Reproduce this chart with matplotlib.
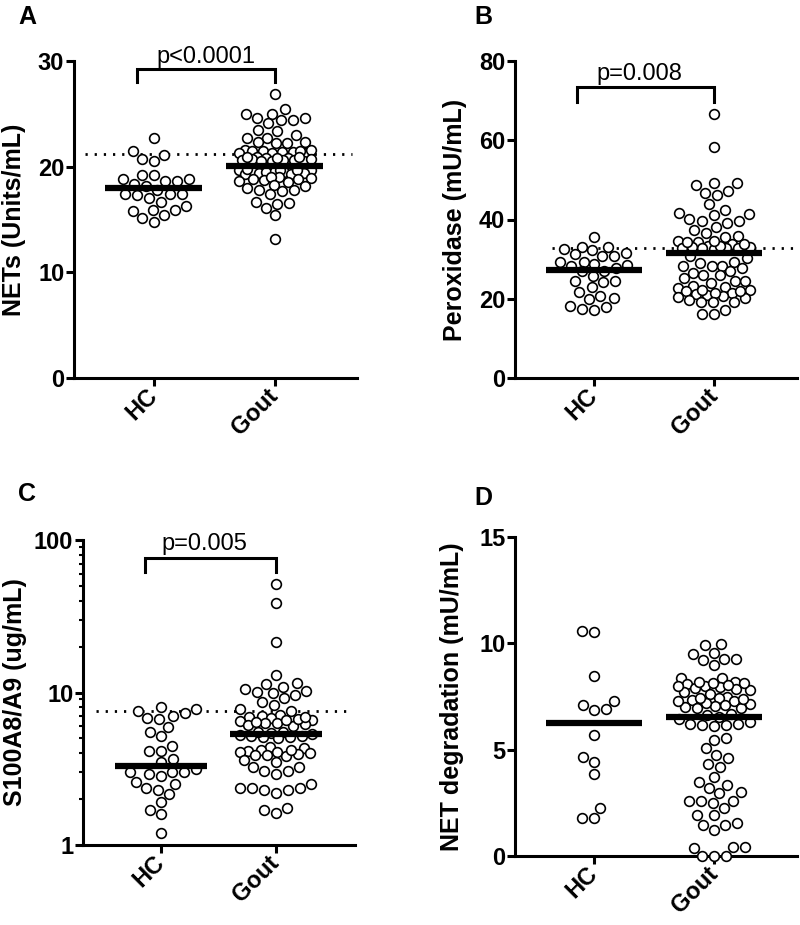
import matplotlib
matplotlib.use('Agg')
import matplotlib.pyplot as plt
import numpy as np
from matplotlib.ticker import LogLocator, NullFormatter, FixedLocator

plt.rcParams['font.family'] = ['Liberation Sans', 'DejaVu Sans']

groups = ['HC', 'Gout']

# Panel A: NETs (Units/mL)
nets_hc = [22.7, 21.45, 21.15, 20.75, 20.5, 19.2, 19.2, 18.8, 18.8, 18.6, 18.6, 18.4, 18.2,
           17.8, 17.45, 17.45, 17.4, 17.3, 17.0, 16.7, 16.3, 15.9, 15.9, 15.8, 15.4, 15.1, 14.8]
nets_gout = [26.9, 25.5, 25.0, 25.0, 24.6, 24.6, 24.45, 24.45, 24.1, 23.5, 23.4, 22.95, 22.7,
             22.75, 22.3, 22.2, 22.3, 22.2,
             21.6, 21.5, 21.45, 21.35, 21.3, 21.25, 21.3, 21.4, 21.5, 21.6,
             20.95, 20.85, 20.8, 20.7, 20.6, 20.55, 20.5, 20.5, 20.6, 20.65, 20.75, 20.8, 20.9, 20.95,
             19.8, 19.7, 19.65, 19.55, 19.5, 19.4, 19.35, 19.35, 19.4, 19.5, 19.55, 19.65, 19.7, 19.8,
             19.0, 18.9, 18.8, 18.65, 18.55, 18.7, 18.85, 19.0,
             18.2, 18.25, 17.8, 17.7, 17.4, 17.75, 18.0, 16.6, 16.7, 16.1, 16.5, 15.4, 13.15]
nets_means = [17.95, 20.09]
nets_ref = 21.2
nets_p = 'p<0.0001'

# Panel B: Peroxidase (mU/mL)
perox_hc = [35.5, 33.0, 33.0, 32.4, 32.5, 31.5, 31.3, 30.8, 30.8, 29.4, 29.2, 28.7, 28.6, 28.3,
            27.7, 27.1, 26.9, 25.8, 24.5, 24.5, 24.2, 22.9, 20.8, 21.7, 19.9, 20.2, 17.9, 18.2,
            17.2, 17.4]
perox_gout = [66.6, 58.4, 49.2, 49.2, 48.7, 47.2, 46.8, 46.2, 43.9, 42.3, 41.6, 41.4, 41.2,
              40.1, 39.5, 39.7, 39.2, 38.2, 37.4, 36.7, 35.9, 35.5,
              34.5, 34.2, 33.8, 33.4, 33.1, 32.9, 32.7, 32.6, 32.7, 32.9, 33.1, 33.4, 33.8, 34.2, 34.5,
              30.7, 30.4, 29.4, 29.0, 28.3, 28.2, 27.7, 28.2, 26.9, 26.6, 26.1, 25.9, 25.2, 24.6,
              23.9, 24.6, 22.9, 23.3,
              22.6, 22.3, 21.9, 21.5, 21.1, 20.7, 20.3, 20.5, 20.9, 21.5, 21.9, 22.3,
              19.7, 19.2, 19.1, 19.2, 17.2, 16.2, 16.2]
perox_means = [27.3, 31.5]
perox_ref = 32.8
perox_p = 'p=0.008'

# Panel C: S100A8/A9 (ug/mL), log scale
s100_hc = [7.75, 8.0, 7.3, 7.6, 6.67, 7.0, 6.77, 5.53, 5.18, 5.97, 4.16, 4.46, 4.16, 3.66, 3.48,
           3.13, 3.03, 2.92, 2.83, 3.03, 3.03, 2.6, 2.51, 2.35, 2.29, 2.16, 1.9, 1.7, 1.59, 1.19]
s100_gout = [51.5, 38.8, 21.5, 13.0, 10.6, 10.9, 10.1, 11.4, 11.5, 10.3, 9.88, 8.28, 8.62, 9.16, 9.7,
             7.6, 7.1, 7.0, 7.8,
             6.9, 6.8, 6.65, 6.5, 6.35, 6.2, 6.05, 6.15, 6.3, 6.45, 6.6, 6.75, 6.9,
             5.5, 5.4, 5.3, 5.2, 5.1, 5.0, 5.1, 5.2, 5.35, 5.5,
             4.3, 4.4,
             4.2, 4.15, 4.05, 3.95, 3.9, 3.85, 3.9, 4.0, 4.1, 4.2,
             3.61, 3.5, 3.23, 3.06, 2.92, 3.07, 3.23,
             2.38, 2.35, 2.29, 2.18, 2.29, 2.38, 2.51,
             1.74, 1.63, 1.7]
s100_means = [3.31, 5.34]
s100_ref = 7.56
s100_p = 'p=0.005'

# Panel D: NET degradation (mU/mL)
deg_hc = [10.54, 10.58, 8.47, 7.09, 7.3, 6.86, 6.9, 5.68, 4.67, 4.43, 3.84, 2.24, 1.77, 1.8]
deg_gout = [9.91, 9.99, 9.49, 9.55, 9.24, 9.2, 9.28, 8.97, 8.35, 8.39,
            8.2, 8.1, 8.0, 7.95, 7.85, 7.7, 7.62, 7.8, 7.9, 8.0, 8.05, 8.12, 8.15, 8.2,
            7.5, 7.42, 7.35, 7.3, 7.15, 7.05, 6.98, 6.98, 7.02, 7.1, 7.2, 7.3, 7.38, 7.42,
            6.7, 6.65,
            6.55, 6.45, 6.3, 6.15, 6.12, 6.2, 6.2, 6.15,
            5.45, 5.53, 5.06, 4.74, 4.59, 4.32, 4.2, 3.73, 3.33, 3.49, 3.02, 2.94, 3.21,
            2.6, 2.6, 2.47, 2.6, 2.24, 1.93, 1.93, 1.53, 1.46, 1.22, 1.46,
            0.44, 0.39, 0.44, 0.0, 0.0, 0.0]
deg_means = [6.26, 6.54]


def swarm_x(ax, values, center, dist_px=11.5, max_half_px=36.0):
    """Greedy beeswarm in pixel space; returns x positions in data units."""
    v = np.asarray(values, float)
    ypx = ax.transData.transform(np.column_stack([np.zeros(len(v)), v]))[:, 1]
    x0 = ax.transData.transform((0, v[0]))[0]
    x1 = ax.transData.transform((1, v[0]))[0]
    ppu = x1 - x0
    order = np.argsort(v, kind='stable')
    cand = np.arange(0, max_half_px + 0.01, 1.0)
    cand = np.concatenate([[0.0], np.ravel(np.column_stack([-cand[1:], cand[1:]]))])
    px, py = [], []
    xs = np.zeros(len(v))
    flip = 1
    for ii in order:
        y = ypx[ii]
        if px:
            P = np.array(px)
            Q = np.array(py)
            near = np.abs(Q - y) < dist_px
            P, Q = P[near], Q[near]
        else:
            P = np.array([])
            Q = np.array([])
        c = cand * flip
        if len(P) == 0:
            best = 0.0
        else:
            d = np.sqrt((c[:, None] - P[None, :]) ** 2 + (y - Q[None, :]) ** 2).min(axis=1)
            ok = np.where(d >= dist_px)[0]
            if len(ok):
                best = c[ok[0]]
            else:
                best = c[np.argmax(d)]
        if best != 0:
            flip = -flip
        px.append(best)
        py.append(y)
        xs[ii] = center + best / ppu
    return xs


fig = plt.figure(figsize=(8, 9.25), dpi=100)
W, H = 800, 925


def add_ax(l, r, t, b):
    return fig.add_axes([l / W, 1 - b / H, (r - l) / W, (b - t) / H])


LW = 2.2
TICKFS = 17
LABFS = 18


def style(ax, ylabel, labx):
    for s in ['top', 'right']:
        ax.spines[s].set_visible(False)
    for s in ['left', 'bottom']:
        ax.spines[s].set_linewidth(LW)
    ax.set_xticks([0, 1])
    ax.set_xticklabels(groups, rotation=45, ha='right', va='center',
                       rotation_mode='anchor', fontsize=TICKFS, fontweight='bold')
    ax.tick_params(axis='x', length=6, width=LW, pad=4)
    ax.tick_params(axis='y', which='major', length=5.5, width=LW, pad=1.5, labelsize=TICKFS)
    for lab in ax.get_yticklabels():
        lab.set_fontweight('bold')
    ax.set_ylabel(ylabel, fontsize=LABFS, fontweight='bold')
    ax.yaxis.set_label_coords(labx, 0.5)


def draw_group(ax, data, means):
    for gi, vals in enumerate(data):
        xs = swarm_x(ax, vals, gi)
        ax.plot(xs, vals, 'o', ms=7, mfc='white', mec='black', mew=1.2,
                zorder=3, clip_on=False, ls='none')
        ax.plot([gi - 0.4, gi + 0.4], [means[gi], means[gi]], color='black',
                lw=4.5, solid_capstyle='butt', zorder=4)


def bracket(ax, y_top, y_bot, text, text_y, tx):
    ax.plot([-0.14, -0.14, 1.0, 1.0], [y_bot, y_top, y_top, y_bot], color='black',
            lw=LW, clip_on=False, zorder=5, solid_joinstyle='miter')
    ax.text(tx, text_y, text, ha='center', va='bottom', fontsize=17, clip_on=False)


def refline(ax, y, x0, x1):
    ax.plot([x0, x1], [y, y], color='black', lw=2.0, ls=(0, (0.8, 2.5)),
            dash_capstyle='butt', zorder=2, clip_on=False)


# Panel A
axA = add_ax(74, 357, 61, 378)
axA.set_xlim(-0.66, 1.68)
axA.set_ylim(0, 30)
refline(axA, nets_ref, -0.57, 1.64)
draw_group(axA, [nets_hc, nets_gout], nets_means)
axA.set_yticks([0, 10, 20, 30])
style(axA, 'NETs (Units/mL)', -0.17)
bracket(axA, 29.24, 28.0, nets_p, 29.35, 0.43)

# Panel B
axB = add_ax(515, 797, 61, 378)
axB.set_xlim(-0.66, 1.69)
axB.set_ylim(0, 80)
refline(axB, perox_ref, -0.35, 1.69)
draw_group(axB, [perox_hc, perox_gout], perox_means)
axB.set_yticks([0, 20, 40, 60, 80])
style(axB, 'Peroxidase (mU/mL)', -0.17)
bracket(axB, 73.4, 69.7, perox_p, 74.0, 0.38)

# Panel C
axC = add_ax(83, 355, 540, 845)
axC.set_yscale('log')
axC.set_xlim(-0.68, 1.69)
axC.set_ylim(1, 100)
refline(axC, s100_ref, -0.57, 1.66)
draw_group(axC, [s100_hc, s100_gout], s100_means)
axC.yaxis.set_major_locator(FixedLocator([1, 10, 100]))
axC.yaxis.set_minor_locator(LogLocator(base=10, subs=np.arange(2, 10)))
axC.yaxis.set_minor_formatter(NullFormatter())
axC.set_yticklabels(['1', '10', '100'])
style(axC, 'S100A8/A9 (ug/mL)', -0.205)
axC.tick_params(axis='y', which='minor', length=3, width=1.5)
bracket(axC, 76.6, 62.0, s100_p, 80.0, 0.38)

# Panel D
axD = add_ax(515, 797, 537, 856)
axD.set_xlim(-0.66, 1.69)
axD.set_ylim(0, 15)
draw_group(axD, [deg_hc, deg_gout], deg_means)
axD.set_yticks([0, 5, 10, 15])
style(axD, 'NET degradation (mU/mL)', -0.18)

for lab, x, y in [('A', 18, 5), ('B', 474, 5), ('C', 18, 482), ('D', 474, 486)]:
    fig.text(x / W, 1 - y / H, lab, ha='left', va='top', fontsize=18, fontweight='bold')

fig.savefig('out.png', dpi=100)
